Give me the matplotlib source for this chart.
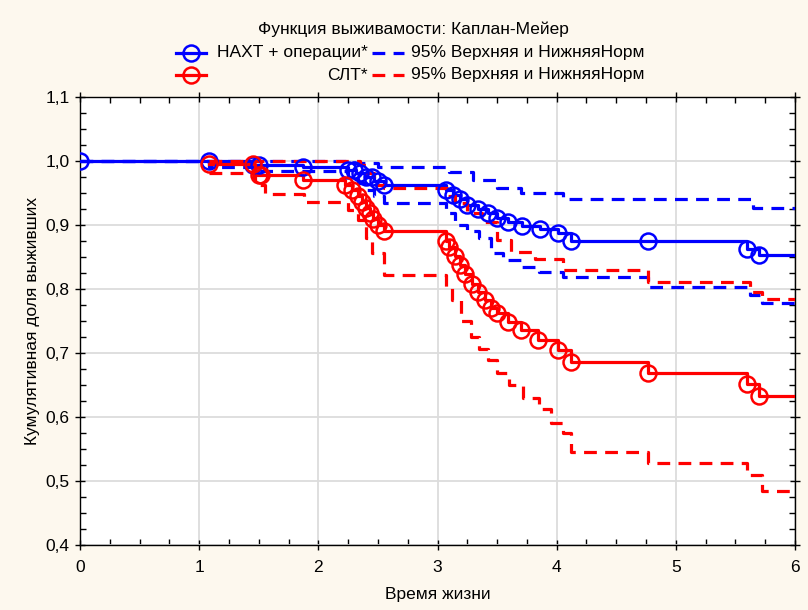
import numpy as np
import matplotlib
matplotlib.use("Agg")
import matplotlib.pyplot as plt
from matplotlib.lines import Line2D
from matplotlib.ticker import MultipleLocator, FuncFormatter

plt.rcParams['font.family'] = ['Liberation Sans', 'DejaVu Sans']

# Kaplan-Meier estimate, group 1 (НАХТ + операции)
t_nakht = [0, 1.45, 1.87, 2.25, 2.32, 2.4, 2.47, 2.55, 3.07, 3.13, 3.19, 3.25, 3.34,
           3.42, 3.5, 3.59, 3.71, 3.86, 4.01, 4.12, 5.6, 5.7]
s_nakht = [1.0, 0.993, 0.991, 0.986, 0.981, 0.975, 0.969, 0.962, 0.955, 0.947, 0.94,
           0.932, 0.925, 0.918, 0.911, 0.905, 0.899, 0.893, 0.887, 0.875, 0.862, 0.853]
c_nakht = [0, 1.08, 1.45, 1.5, 1.87, 2.25, 2.3, 2.35, 2.4, 2.45, 2.5, 2.55, 3.07, 3.13,
           3.19, 3.25, 3.34, 3.42, 3.5, 3.59, 3.71, 3.86, 4.01, 4.12, 4.77, 5.6, 5.7]
# 95% band, group 1
t_nakht_hi = [0, 2.3, 2.5, 3.1, 3.3, 3.5, 3.7, 4.05, 5.65]
s_nakht_hi = [1.0, 0.997, 0.991, 0.983, 0.970, 0.958, 0.95, 0.941, 0.926]
t_nakht_lo = [0, 1.08, 1.45, 2.25, 2.33, 2.4, 2.47, 2.55, 3.07, 3.15, 3.25, 3.35, 3.45,
              3.55, 3.7, 3.85, 4.05, 4.77, 5.62, 5.72]
s_nakht_lo = [1.0, 0.99, 0.985, 0.975, 0.965, 0.955, 0.945, 0.934, 0.919, 0.9, 0.89,
              0.88, 0.857, 0.845, 0.835, 0.826, 0.819, 0.803, 0.79, 0.778]

# Kaplan-Meier estimate, group 2 (СЛТ)
t_slt = [1.08, 1.47, 1.87, 2.22, 2.28, 2.33, 2.37, 2.4, 2.43, 2.46, 2.5, 2.55, 3.07, 3.1,
         3.15, 3.19, 3.23, 3.29, 3.34, 3.4, 3.45, 3.5, 3.59, 3.7, 3.84, 4.01, 4.12, 4.77,
         5.6, 5.7]
s_slt = [0.995, 0.978, 0.970, 0.962, 0.954, 0.945, 0.936, 0.927, 0.918, 0.909, 0.9, 0.89,
         0.875, 0.865, 0.852, 0.838, 0.824, 0.808, 0.795, 0.783, 0.771, 0.762, 0.748,
         0.736, 0.72, 0.704, 0.686, 0.669, 0.652, 0.633]
c_slt = [1.08, 1.45, 1.5, 1.52, 1.87, 2.22, 2.28, 2.33, 2.37, 2.4, 2.43, 2.46, 2.5, 2.55,
         3.07, 3.1, 3.15, 3.19, 3.23, 3.29, 3.34, 3.4, 3.45, 3.5, 3.59, 3.7, 3.84, 4.01,
         4.12, 4.77, 5.6, 5.7]
# 95% band, group 2
t_slt_hi = [1.08, 2.35, 2.4, 2.47, 2.55, 3.08, 3.15, 3.25, 3.37, 3.5, 3.62, 3.82, 4.05,
            4.77, 5.62, 5.72]
s_slt_hi = [1.0, 0.994, 0.981, 0.962, 0.958, 0.945, 0.934, 0.919, 0.905, 0.877, 0.858,
            0.847, 0.83, 0.811, 0.795, 0.785]
t_slt_lo = [1.08, 1.47, 1.55, 1.88, 2.25, 2.33, 2.4, 2.45, 2.55, 3.07, 3.12, 3.2, 3.28,
            3.35, 3.42, 3.5, 3.6, 3.72, 3.85, 3.95, 4.05, 4.12, 4.77, 5.6, 5.72]
s_slt_lo = [0.981, 0.962, 0.948, 0.936, 0.923, 0.908, 0.88, 0.856, 0.822, 0.803, 0.783,
            0.75, 0.725, 0.706, 0.689, 0.669, 0.65, 0.63, 0.612, 0.59, 0.575, 0.545,
            0.528, 0.51, 0.484]

T_END = 6.0
BLUE = '#0000ff'
RED = '#ff0000'
BG = '#fdf8ee'
DASH = (0, (4, 2.6))
FS = 12.5


def step_at(times, vals, t):
    idx = np.searchsorted(times, t, side='right') - 1
    return np.asarray(vals)[idx]


def draw_step(ax, times, vals, color, ls):
    ax.plot(list(times) + [T_END], list(vals) + [vals[-1]], drawstyle='steps-post',
            color=color, lw=2.3, ls=ls, zorder=3)


fig = plt.figure(figsize=(8.08, 6.10), dpi=100, facecolor=BG)
ax = fig.add_axes([80 / 808, 65 / 610, 715 / 808, 448 / 610])
ax.set_facecolor('white')

for color, t_km, s_km, cens, th, sh, tl, sl in [
        (BLUE, t_nakht, s_nakht, c_nakht, t_nakht_hi, s_nakht_hi, t_nakht_lo, s_nakht_lo),
        (RED, t_slt, s_slt, c_slt, t_slt_hi, s_slt_hi, t_slt_lo, s_slt_lo)]:
    draw_step(ax, th, sh, color, DASH)
    draw_step(ax, tl, sl, color, DASH)
    draw_step(ax, t_km, s_km, color, '-')
    ax.plot(cens, step_at(t_km, s_km, cens), ls='none', marker='o', ms=11.5,
            mfc='none', mec=color, mew=1.8, zorder=4)

ax.set_xlim(0, 6)
ax.set_ylim(0.4, 1.1)
ax.xaxis.set_major_locator(MultipleLocator(1))
ax.xaxis.set_minor_locator(MultipleLocator(0.25))
ax.yaxis.set_major_locator(MultipleLocator(0.1))
ax.yaxis.set_minor_locator(MultipleLocator(0.025))
ax.yaxis.set_major_formatter(FuncFormatter(lambda v, p: f'{v:.1f}'.replace('.', ',')))
ax.tick_params(which='both', top=True, right=True, labelsize=FS, colors='black')
ax.tick_params(which='major', direction='inout', length=7, width=1, pad=4)
ax.tick_params(which='minor', direction='in', length=4, width=1)
ax.tick_params(axis='x', which='major', pad=7)
ax.grid(True, which='major', color='#dcdcdc', lw=1.3, zorder=0)
ax.set_axisbelow(True)
for sp in ax.spines.values():
    sp.set_linewidth(1.0)

ax.set_xlabel('Время жизни', fontsize=FS, labelpad=9)
ax.set_ylabel('Кумулятивная доля выживших', fontsize=FS, labelpad=4)

# legend block above the plot
def fx(px):
    return px / 808


def fy(py):
    return 1 - py / 610


fig.text(fx(413), fy(29), 'Функция выживамости: Каплан-Мейер', fontsize=FS,
         ha='center', va='center')
for row_y, color, name in [(53, BLUE, 'НАХТ + операции*'), (75, RED, 'СЛТ*')]:
    fig.add_artist(Line2D([fx(176), fx(206)], [fy(row_y), fy(row_y)], color=color, lw=2.3))
    fig.add_artist(Line2D([fx(191)], [fy(row_y)], marker='o', ms=11.5, mfc='none',
                          mec=color, mew=1.8))
    fig.add_artist(Line2D([fx(372), fx(404)], [fy(row_y), fy(row_y)], color=color,
                          lw=2.3, ls=DASH))
    fig.text(fx(368), fy(row_y), name, fontsize=FS, ha='right', va='center')
    fig.text(fx(411), fy(row_y), '95% Верхняя и НижняяНорм', fontsize=FS,
             ha='left', va='center')

fig.savefig('out.png', dpi=100, facecolor=BG)
